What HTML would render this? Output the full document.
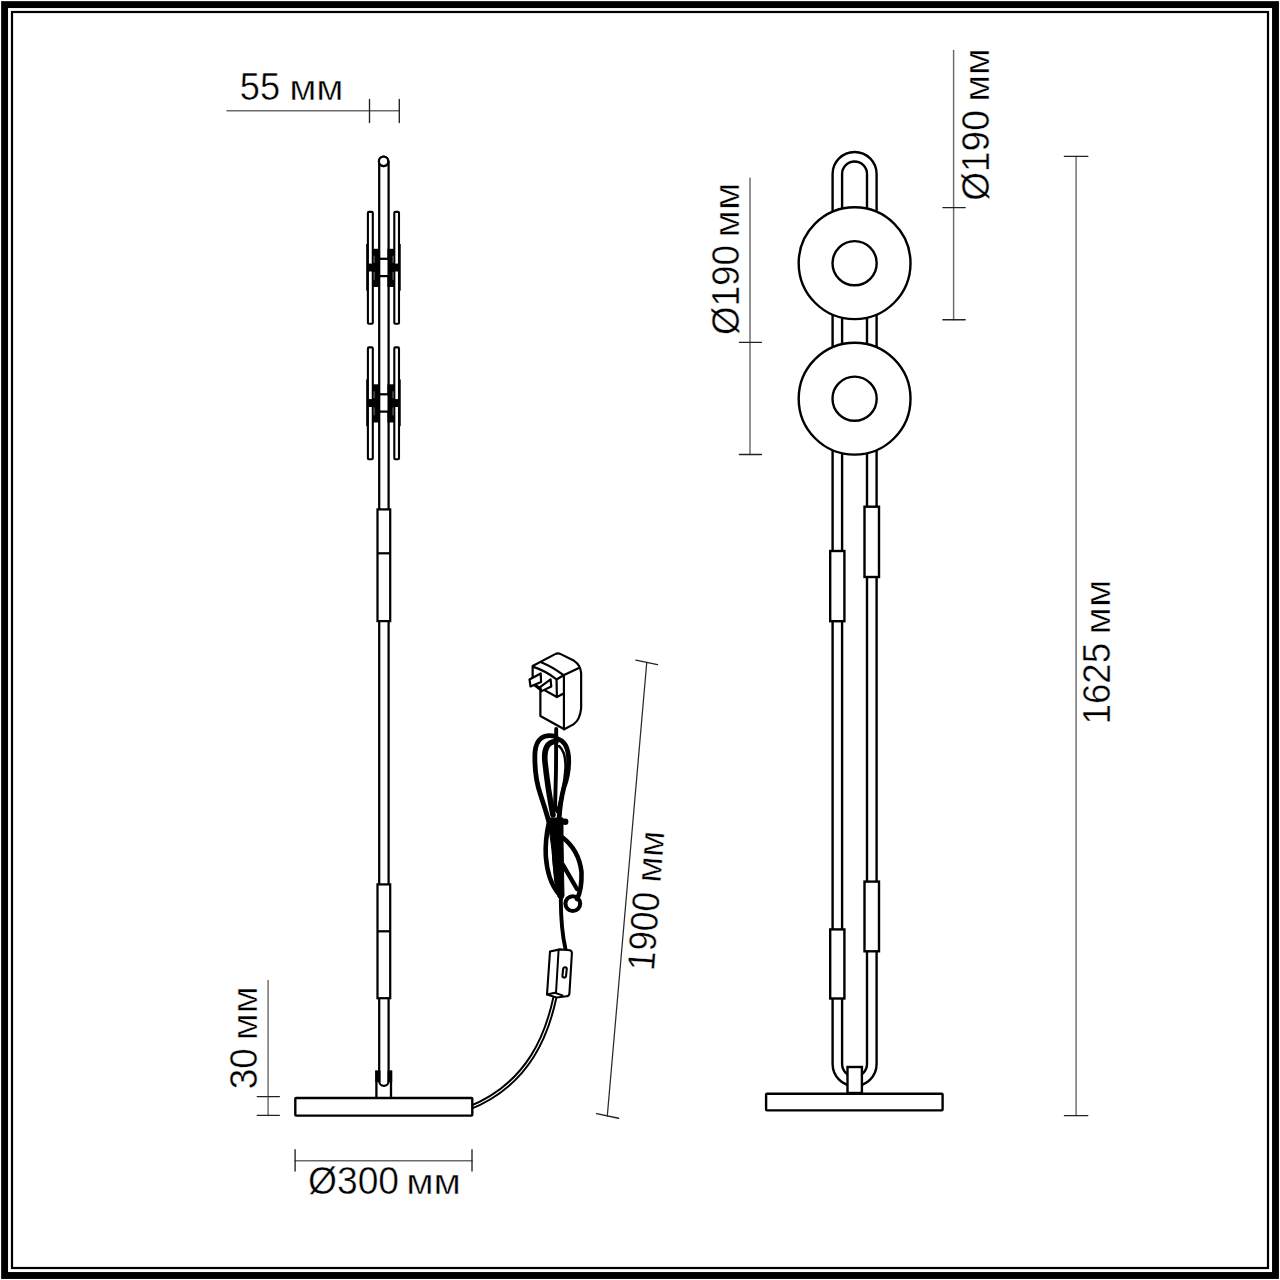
<!DOCTYPE html>
<html><head><meta charset="utf-8"><style>
html,body{margin:0;padding:0;background:#fff;width:1280px;height:1280px;overflow:hidden}
svg{display:block}
text{font-family:"Liberation Sans",sans-serif}
</style></head><body>
<svg width="1280" height="1280" viewBox="0 0 1280 1280">
<rect x="4.6" y="4.6" width="1270.9" height="1270.9" fill="none" stroke="#000" stroke-width="6.9"/>
<rect x="12" y="12" width="1256" height="1256" fill="none" stroke="#000" stroke-width="2.2"/>
<g fill="none" stroke="#000" stroke-linecap="round" stroke-linejoin="round">
<!-- cord to base -->
<path d="M555 997 C548 1030 531 1084 468 1108.5" stroke-width="5" stroke-linecap="butt"/>
<path d="M555 997 C548 1030 531 1084 468 1108.5" stroke="#fff" stroke-width="1.1" stroke-linecap="butt"/>
<!-- cord above switch -->
<path d="M560.8 900 Q561 930 565.5 949" stroke-width="3.9"/>
<!-- switch -->
<path d="M550 951.5 L559.9 949.4 L570 950.2 Q572 951 571.9 953.3 L569.4 993.6 Q569 996 566.8 996.2 L556.5 997.5 L547 994.5 Z" fill="#fff" stroke-width="2.1"/>
<path d="M558.6 949.8 L556 993.2 M547 994.5 L554.8 992.8 L562.5 995.4" stroke-width="2"/>
<rect x="562.8" y="967.2" width="3.6" height="10.4" rx="1.8" transform="rotate(6 564.6 972.4)" stroke-width="2.1"/>
<!-- cord bundle -->
<path d="M556.2 729 L556 770 L555 810" stroke-width="3.9"/>
<path d="M556 736.5 Q537 732 535 752 Q534 776 540.6 795 Q545 808 549 822" stroke-width="4.8"/>
<path d="M556 741.5 Q543 742 545 762 Q548 790 553 815" stroke-width="5.6"/>
<path d="M556 738.5 Q569 741 568.7 762 Q568.5 775 564 787 Q560 802 559 820" stroke-width="4.8"/>
<path d="M559 746 Q566 752 565.5 768 Q564 790 557 812" stroke-width="2.5"/>
<path d="M549 822 Q545 840 545.8 856 Q547.5 880 558 893" stroke-width="4.6"/>
<path d="M553 827 Q552 857 556 880" stroke-width="2.5"/>
<path d="M562 837 Q579 850 581.5 872 Q582 890 577 899" stroke-width="4.6"/>
<path d="M562.8 864.7 L577 889" stroke-width="4.4"/>
<circle cx="572.8" cy="903.6" r="7.4" stroke-width="4.1"/>
<path d="M548 818 L563 818 L563 840 L563.5 870 L564 896 L561.5 901 L558 897 L554.5 880 L552 850 Z" fill="#000" stroke-width="1"/>
<circle cx="565.2" cy="821.7" r="3.2" fill="#000" stroke="none"/>
<!-- adapter -->
<path d="M532.65 666.08 L555.14 654.14 Q557.95 652.5 560.76 654.14 L574.11 660.81 Q580.44 665 581.14 673.1 L581.14 708.25 Q580 720 573.41 724.4 L564.28 729.33 L540.38 715.98 L540.38 689.98 L532.65 684 Z" fill="#fff" stroke-width="2.2"/>
<path d="M541.08 662.2 Q553 667 563.57 675.2 M534.06 667.14 Q546 671 556.55 679.44 L563.57 675.2 L578.33 668.19 M563.92 675.2 V729.33 M556.55 679.44 L556.9 697 L563.57 693.5 M534.06 684.36 L556.9 697" stroke-width="2.2"/>
<path d="M529.49 679.44 L540.73 673.46 L541.08 681.9 L530.54 686.46 Z" fill="#fff" stroke-width="2.2"/>
<path d="M540.38 686.8 L550.57 679.44 L551.27 686.46 L541.08 691.38 Z" fill="#fff" stroke-width="2.2"/>
</g>

<g fill="none" stroke="#000" stroke-width="2.25"><circle cx="383.6" cy="161.3" r="4.7"/><path d="M379.2 161.3 V1081.2 A4.7 4.7 0 0 0 388.6 1081.2 V161.3"/><circle cx="383.6" cy="161.3" r="4.7" fill="#fff"/><line x1="366.6" y1="244.40" x2="366.6" y2="290.30" stroke-width="0.9" stroke-linecap="round"/><line x1="400.3" y1="244.40" x2="400.3" y2="290.30" stroke-width="0.9" stroke-linecap="round"/><rect x="367.9" y="211.90" width="4.9" height="111.8" rx="1" stroke-width="2.1"/><rect x="394.3" y="211.90" width="4.7" height="111.8" rx="1" stroke-width="2.1"/><rect x="372.5" y="248.80" width="7.4" height="38.2" fill="#000" stroke="none"/><rect x="387.4" y="248.80" width="7.4" height="38.2" fill="#000" stroke="none"/><rect x="373.3" y="255.80" width="1.8" height="7" fill="#444" stroke="none"/><rect x="373.3" y="272.00" width="1.8" height="7.8" fill="#444" stroke="none"/><rect x="392.2" y="255.80" width="1.8" height="7" fill="#444" stroke="none"/><rect x="392.2" y="272.00" width="1.8" height="7.8" fill="#444" stroke="none"/><rect x="367.8" y="263.60" width="31" height="7.9" fill="#000" stroke="none"/><rect x="379.20" y="258.80" width="9.40" height="17.3" fill="#fff"/><line x1="366.6" y1="379.90" x2="366.6" y2="425.80" stroke-width="0.9" stroke-linecap="round"/><line x1="400.3" y1="379.90" x2="400.3" y2="425.80" stroke-width="0.9" stroke-linecap="round"/><rect x="367.9" y="347.40" width="4.9" height="111.8" rx="1" stroke-width="2.1"/><rect x="394.3" y="347.40" width="4.7" height="111.8" rx="1" stroke-width="2.1"/><rect x="372.5" y="384.30" width="7.4" height="38.2" fill="#000" stroke="none"/><rect x="387.4" y="384.30" width="7.4" height="38.2" fill="#000" stroke="none"/><rect x="373.3" y="391.30" width="1.8" height="7" fill="#444" stroke="none"/><rect x="373.3" y="407.50" width="1.8" height="7.8" fill="#444" stroke="none"/><rect x="392.2" y="391.30" width="1.8" height="7" fill="#444" stroke="none"/><rect x="392.2" y="407.50" width="1.8" height="7.8" fill="#444" stroke="none"/><rect x="367.8" y="399.10" width="31" height="7.9" fill="#000" stroke="none"/><rect x="379.20" y="394.30" width="9.40" height="17.3" fill="#fff"/><rect x="377.5" y="509.40" width="12.7" height="111.70" fill="#fff"/><line x1="377.5" y1="553.3" x2="390.2" y2="553.3"/><rect x="377.5" y="884.40" width="12.7" height="113.80" fill="#fff"/><line x1="377.5" y1="931.3" x2="390.2" y2="931.3"/><path d="M376.4 1070.6 V1097.5 M391.0 1070.6 V1097.5" stroke-width="2.3"/><rect x="375.3" y="1070.6" width="5.2" height="11.5" fill="#000" stroke="none"/><rect x="387.5" y="1070.6" width="4.7" height="11.5" fill="#000" stroke="none"/><rect x="295.3" y="1098" width="177.0" height="17.6" rx="0.8" fill="#fff" stroke-width="2.4"/></g>
<g fill="none" stroke="#000" stroke-width="2.4"><path d="M832.6 1064.0 V174.0 A22 22 0 0 1 876.6 174.0 V1064.0 A22 22 0 0 1 832.6 1064.0Z"/><path d="M842.1 1064.0 V174.0 A12.45 12.45 0 0 1 867.0 174.0 V1064.0 A12.45 12.45 0 0 1 842.1 1064.0Z"/><circle cx="854.6" cy="263.2" r="55.9" fill="#fff"/><circle cx="854.6" cy="263.2" r="22.1"/><circle cx="854.6" cy="398.7" r="55.9" fill="#fff"/><circle cx="854.6" cy="398.7" r="22.1"/><rect x="830.20" y="551.00" width="14.20" height="70.20" fill="#fff"/><rect x="830.20" y="929.40" width="14.20" height="69.10" fill="#fff"/><rect x="864.50" y="506.70" width="14.50" height="70.30" fill="#fff"/><rect x="864.50" y="881.60" width="14.50" height="69.70" fill="#fff"/><rect x="847.5" y="1067" width="14.4" height="26" fill="#fff"/><rect x="766.1" y="1093.7" width="176.5" height="16.7" rx="0.8" fill="#fff" stroke-width="2.4"/></g>
<g fill="none" stroke-linecap="round"><g stroke="#6a6a6a" stroke-width="1.45"><path d="M227 110.8 H399.5"/><path d="M268.1 980.6 V1115.6"/><path d="M295.1 1160.7 H472"/><path d="M750 178.3 V454.5"/><path d="M953.6 50.5 V319.7"/><path d="M1076.1 156.4 V1115.6"/></g><path d="M646.7 663 L607.3 1115.9" stroke="#2a2a2a" stroke-width="1.25"/><g stroke="#222" stroke-width="1.35"><path d="M369.5 99.5 V122.5 M399.3 99.5 V122.5"/><path d="M257.3 1096.6 H279.4 M257.3 1115.3 H279.4"/><path d="M295.1 1149.7 V1171 M472 1149.7 V1171"/><path d="M635.9 660.2 L657.5 664.6 M596.6 1113.6 L618.6 1118.25"/><path d="M739.4 342.3 H761.4 M739.4 454.5 H761.4"/><path d="M942.9 207.6 H965.2 M942.9 319.7 H965.2"/><path d="M1064.4 156.4 H1087.8 M1064.4 1115.6 H1087.8"/></g></g>
<g fill="#000" stroke="#fff" stroke-width="0.45" font-family="Liberation Sans, sans-serif"><text x="0" y="0" transform="translate(239.75 99.80) rotate(0)" textLength="40.27" lengthAdjust="spacingAndGlyphs" font-size="38.6">55</text><text x="0" y="0" transform="translate(289.16 99.80) rotate(0)" textLength="54.36" lengthAdjust="spacingAndGlyphs" font-size="35.8">мм</text><text x="0" y="0" transform="translate(308.01 1194.30) rotate(0)" textLength="91.04" lengthAdjust="spacingAndGlyphs" font-size="38.6">Ø300</text><text x="0" y="0" transform="translate(406.14 1194.30) rotate(0)" textLength="54.70" lengthAdjust="spacingAndGlyphs" font-size="35.8">мм</text><text x="0" y="0" transform="translate(257.30 1089.21) rotate(-90)" textLength="41.05" lengthAdjust="spacingAndGlyphs" font-size="38.6">30</text><text x="0" y="0" transform="translate(257.30 1040.22) rotate(-90)" textLength="53.92" lengthAdjust="spacingAndGlyphs" font-size="35.8">мм</text><text x="0" y="0" transform="translate(739.40 335.07) rotate(-90)" textLength="89.91" lengthAdjust="spacingAndGlyphs" font-size="38.6">Ø190</text><text x="0" y="0" transform="translate(739.40 237.46) rotate(-90)" textLength="54.70" lengthAdjust="spacingAndGlyphs" font-size="35.8">мм</text><text x="0" y="0" transform="translate(988.50 200.78) rotate(-90)" textLength="90.53" lengthAdjust="spacingAndGlyphs" font-size="38.6">Ø190</text><text x="0" y="0" transform="translate(988.50 101.69) rotate(-90)" textLength="53.36" lengthAdjust="spacingAndGlyphs" font-size="35.8">мм</text><text x="0" y="0" transform="translate(1110.30 724.50) rotate(-90)" textLength="81.64" lengthAdjust="spacingAndGlyphs" font-size="38.6">1625</text><text x="0" y="0" transform="translate(1110.30 634.46) rotate(-90)" textLength="54.70" lengthAdjust="spacingAndGlyphs" font-size="35.8">мм</text><text x="0" y="0" transform="translate(653.90 971.38) rotate(-85.7)" textLength="78.57" lengthAdjust="spacingAndGlyphs" font-size="38.6">1900</text><text x="0" y="0" transform="translate(660.52 883.36) rotate(-85.7)" textLength="52.03" lengthAdjust="spacingAndGlyphs" font-size="35.8">мм</text></g>
</svg>
</body></html>
